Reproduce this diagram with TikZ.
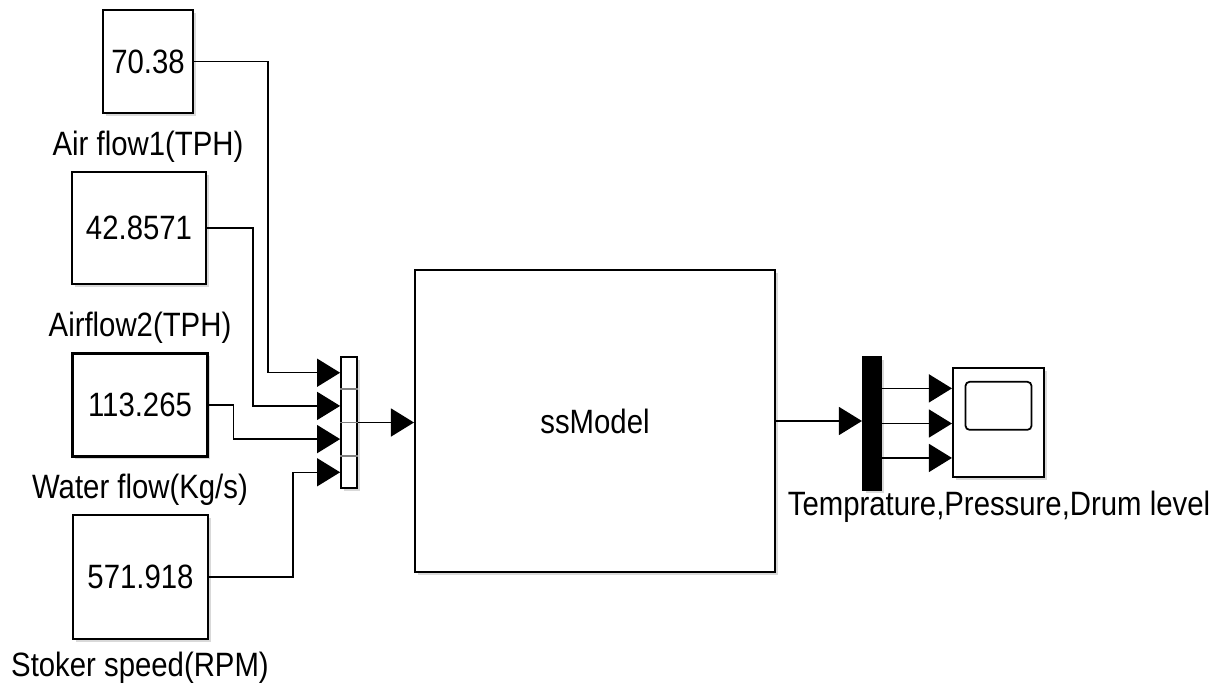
\documentclass[tikz,border=0pt]{standalone}
\usepackage{fontspec}
\setmainfont{Liberation Sans}
\usetikzlibrary{positioning,calc,arrows.meta,shadows}
\newcommand{\tx}[1]{\scalebox{1}[1.15]{#1}}

\begin{document}
\begin{tikzpicture}[x=0.02cm,y=-0.02cm,
	font=\fontsize{16.7}{20}\selectfont,
	blk/.style={draw,line width=1.2pt,fill=white,inner sep=0pt,
		drop shadow={shadow xshift=1.5pt,shadow yshift=-1.5pt,opacity=0.3}},
	lab/.style={inner sep=0pt},
	wire/.style={line width=0.75pt},
	sig/.style={wire,-{Triangle[length=0.46cm,width=0.56cm]}}]
	\useasboundingbox (0,0) rectangle (1227,690);
	% constant blocks
	\node[blk,minimum width=1.8cm,minimum height=2.06cm] (c1) at (148,61.5) {\tx{70.38}};
	\node[blk,minimum width=2.68cm,minimum height=2.24cm] (c2) at (139,228) {\tx{42.8571}};
	\node[blk,minimum width=2.7cm,minimum height=2.06cm] (c3) at (140,405) {\tx{113.265}};
	\node[blk,minimum width=2.7cm,minimum height=2.48cm] (c4) at (140.5,577) {\tx{571.918}};
	\node[lab] (l1) at (148,147) {\tx{Air flow1(TPH)}};
	\node[lab] (l2) at (140,328) {\tx{Airflow2(TPH)}};
	\node[lab] (l3) at (140,490) {\tx{Water flow(Kg/s)}};
	\node[lab] (l4) at (140,668) {\tx{Stoker speed(RPM)}};
	% mux
	\node[blk,line width=1pt,minimum width=0.32cm,minimum height=2.62cm] (mux) at (349,422.5) {};
	\foreach \f in {0.25,0.5,0.75}
		\draw[gray,line width=1pt] ($(mux.north west)!\f!(mux.south west)$) -- ($(mux.north east)!\f!(mux.south east)$);
	\foreach \i/\f in {1/0.125,2/0.375,3/0.625,4/0.875}
		\coordinate (in\i) at ($(mux.north west)!\f!(mux.south west)$);
	\draw[sig] (c1.east) -- ++(74,0) |- (in1);
	\draw[sig] (c2.east) -- ++(46,0) |- (in2);
	\draw[sig] (c3.east) -- ++(25,0) |- (in3);
	\draw[sig] (c4.east) -- ++(84,0) |- (in4);
	% model
	\node[blk,minimum width=7.2cm,minimum height=6.04cm] (model) at (595,421) {\tx{ssModel}};
	\draw[sig] (mux.east) -- (mux.east -| model.west);
	% demux and scope
	\node[blk,fill=black,minimum width=0.36cm,minimum height=2.66cm] (dmx) at (872,423.5) {};
	\draw[sig] (model.east) -- (model.east -| dmx.west);
	\node[blk,minimum width=1.82cm,minimum height=2.18cm] (scope) at (998.5,422.5) {};
	\node[draw,line width=1pt,rounded corners=2.3pt,minimum width=1.32cm,minimum height=0.96cm,
		below=0.28cm of scope.north] (scr) {};
	\foreach \i/\f in {1/0.24,2/0.5,3/0.755} {
		\coordinate (out\i) at ($(dmx.north east)!\f!(dmx.south east)$);
		\draw[sig] (out\i) -- (out\i -| scope.west);
	}
	\node[lab] (l5) at (999,507) {\tx{Temprature,Pressure,Drum level}};
\end{tikzpicture}
\end{document}
